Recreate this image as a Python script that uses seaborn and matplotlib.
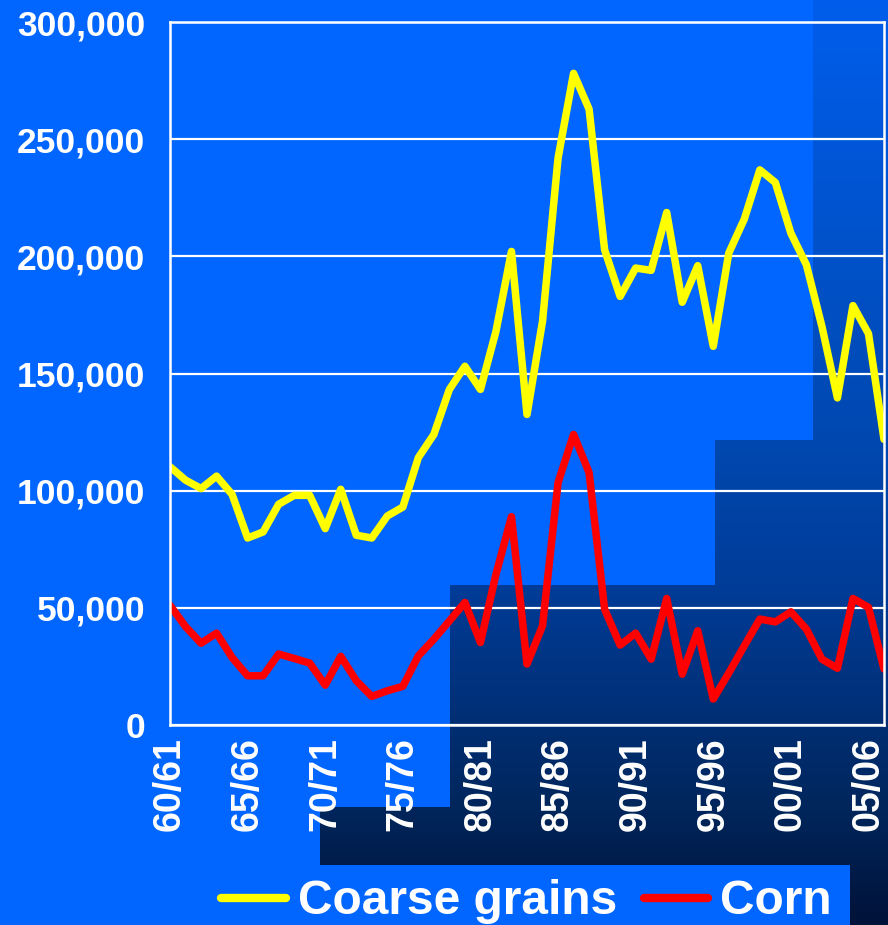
import numpy as np
import pandas as pd
import matplotlib
matplotlib.use("Agg")
import matplotlib.pyplot as plt
from matplotlib.patches import Polygon
from matplotlib.ticker import FuncFormatter, MultipleLocator
import seaborn as sns

# Marketing years 1960/61 through 2006/07
seasons = [f"{y % 100:02d}/{(y + 1) % 100:02d}" for y in range(1960, 2007)]

# Ending stocks, 1,000 metric tons
coarse_grains = [
    110200, 104500, 100900, 106200, 98400, 79800, 82400, 94200, 98000, 98000,
    83800, 100600, 81000, 79800, 89200, 93000, 114100, 124000, 143200, 153100,
    143200, 168000, 202100, 132500, 172300, 241900, 278100, 262800, 202800, 182900,
    195000, 194000, 218700, 180400, 196000, 161600, 201400, 215900, 236900, 231500,
    209900, 196400, 170100, 139600, 179000, 167000, 121900,
]
corn = [
    51100, 42000, 34900, 39200, 28800, 21000, 21000, 30300, 28400, 26400,
    17000, 29300, 18900, 12200, 14600, 16500, 29500, 36600, 44400, 52300,
    35200, 64300, 88900, 26000, 42300, 103400, 124000, 107700, 49400, 34100,
    39200, 28100, 54000, 21700, 40200, 11100, 22200, 33800, 45200, 44000,
    48300, 40900, 28100, 24200, 54000, 50200, 23900,
]

series_names = ["Coarse grains", "Corn"]
series_colors = ["#FFFF00", "#FF0000"]

df = pd.DataFrame({
    "pos": list(range(len(seasons))) * 2,
    "stocks": coarse_grains + corn,
    "series": [series_names[0]] * len(seasons) + [series_names[1]] * len(seasons),
})

sns.set_style("white")
plt.rcParams["font.family"] = ["Liberation Sans", "DejaVu Sans"]
plt.rcParams["font.weight"] = "bold"

W, H = 888, 925
fig = plt.figure(figsize=(W / 100, H / 100), dpi=100, facecolor="#0066FF")

# Decorative stepped backdrop with a vertical dark-blue gradient
bg = fig.add_axes([0, 0, 1, 1], zorder=0)
bg.set_xlim(0, W)
bg.set_ylim(H, 0)
bg.axis("off")
stops_y = [0, 440, 585, 807, 925]
stops_g = [94, 72, 60, 38, 18]
stops_b = [236, 176, 152, 92, 56]
rows = np.arange(H)
grad = np.zeros((H, 1, 3))
grad[:, 0, 1] = np.interp(rows, stops_y, stops_g) / 255
grad[:, 0, 2] = np.interp(rows, stops_y, stops_b) / 255
img = bg.imshow(grad, extent=(0, W, H, 0), aspect="auto", interpolation="bilinear")
steps = Polygon(
    [(813, 0), (W, 0), (W, H), (850, H), (850, 865), (320, 865), (320, 807),
     (450, 807), (450, 585), (715, 585), (715, 440), (813, 440)],
    closed=True, transform=bg.transData, facecolor="none", edgecolor="none",
)
bg.add_patch(steps)
img.set_clip_path(steps)

ax = fig.add_axes([170 / W, 200 / H, 714 / W, 703 / H], zorder=1)
ax.set_facecolor("none")

sns.lineplot(
    data=df, x="pos", y="stocks", hue="series", hue_order=series_names,
    palette=series_colors, linewidth=5.4, ax=ax, legend=False,
    solid_joinstyle="round", solid_capstyle="round",
)

ax.set_xlim(0, len(seasons) - 1)
ax.set_ylim(0, 300000)
ax.yaxis.set_major_locator(MultipleLocator(50000))
ax.yaxis.set_major_formatter(FuncFormatter(lambda v, p: f"{v:,.0f}"))
ax.set_xticks(range(0, len(seasons), 5))
ax.set_xticklabels(seasons[::5], rotation=90)
ax.xaxis.set_minor_locator(MultipleLocator(1))
ax.set_xlabel("")
ax.set_ylabel("")

ax.grid(axis="y", color="white", linewidth=1.6)
ax.grid(axis="x", visible=False)
for s in ax.spines.values():
    s.set_color("white")
    s.set_linewidth(1.8)

ax.tick_params(axis="y", which="major", direction="out", length=9, width=1.6,
               color="white", labelcolor="white", labelsize=25.5, pad=9)
ax.tick_params(axis="x", which="both", direction="out", length=7, width=1.6,
               color="white", labelcolor="white", labelsize=27, pad=2)
for lbl in ax.get_xticklabels() + ax.get_yticklabels():
    lbl.set_fontweight("bold")

handles = [plt.Line2D([], [], color=c, linewidth=6, solid_capstyle="round")
           for c in series_colors]
leg = fig.legend(
    handles, series_names, loc="center", bbox_to_anchor=(0.593, 0.025),
    ncol=2, frameon=False, handlelength=1.35, handletextpad=0.25,
    columnspacing=0.55, prop={"size": 34.5, "weight": "bold"},
)
for t in leg.get_texts():
    t.set_color("white")

fig.savefig("out.png", dpi=100, facecolor=fig.get_facecolor())
